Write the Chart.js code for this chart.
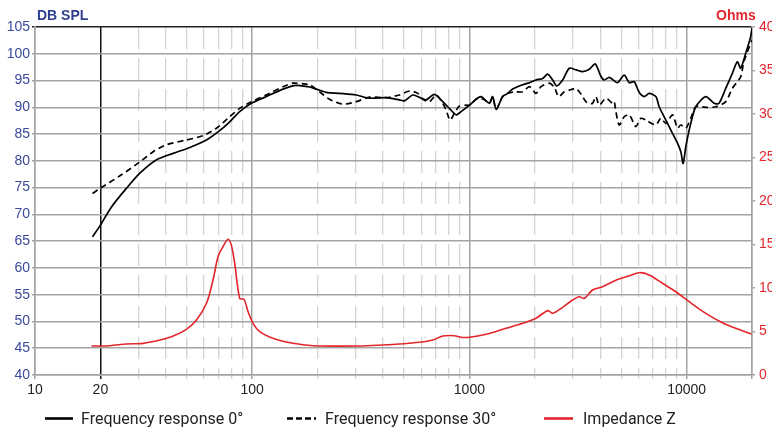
<!DOCTYPE html>
<html>
<head>
<meta charset="utf-8">
<script src="https://cdn.jsdelivr.net/npm/chart.js@4.4.1/dist/chart.umd.min.js"></script>
<style>
  html, body { margin: 0; padding: 0; background: #fff; overflow: hidden; width: 772px; height: 429px; }
  #wrap { position: absolute; left: 0; top: 0; width: 800px; height: 429px; }
  .ttl { position: absolute; top: 7px; font: bold 14px "Liberation Sans", Arial, sans-serif; }
  #dbspl { left: 37px; color: #2f3f8f; }
  #ohms { left: 716px; color: #e3262c; }
  .lg { position: absolute; top: 409px; height: 20px; font: 16px Roboto, sans-serif; color: #222; white-space: nowrap; line-height: 20px; }
  .lg svg { position: absolute; left: 0; top: 0; }
  .lg span { position: absolute; top: 0; }
</style>
</head>
<body>
<div id="wrap"><canvas id="chart" width="800" height="429"></canvas></div>
<div class="ttl" id="dbspl">DB SPL</div>
<div class="ttl" id="ohms">Ohms</div>

<div class="lg" style="left:45px">
  <svg width="30" height="20"><line x1="0" y1="9.5" x2="28" y2="9.5" stroke="#000" stroke-width="2.6"/></svg>
  <span style="left:36px">Frequency response 0°</span>
</div>
<div class="lg" style="left:287px">
  <svg width="30" height="20"><line x1="0" y1="9.5" x2="29" y2="9.5" stroke="#000" stroke-width="2.6" stroke-dasharray="6,3"/></svg>
  <span style="left:38px">Frequency response 30°</span>
</div>
<div class="lg" style="left:544px">
  <svg width="30" height="20"><line x1="0" y1="9.5" x2="29" y2="9.5" stroke="#e3262c" stroke-width="2.6"/></svg>
  <span style="left:39px">Impedance Z</span>
</div>

<script>
// ═══ DATA ═══
const freq0 = [18.4, 20, 22.5, 26.4, 30.4, 36.3, 43.3, 51.6, 61.6, 69.6, 78.8, 87.6, 99.1, 116, 138.6, 159.7, 183.8, 197, 219, 252.6, 301, 347, 414, 476, 502, 549, 600, 632, 690, 754, 809, 869, 916, 1000, 1080, 1132, 1236, 1280, 1327, 1423, 1500, 1582, 1758, 1888, 2026, 2175, 2293, 2417, 2522, 2686, 2884, 3095, 3321, 3562, 3797, 4030, 4176, 4401, 4560, 4810, 5161, 5445, 5737, 6048, 6377, 6723, 7218, 7476, 8024, 8608, 9078, 9404, 9638, 9915, 10450, 11020, 12250, 13380, 14100, 15140, 16240, 17120, 17740, 18710, 19720, 20000];
const spl0 = [65.8, 68.0, 71.4, 74.9, 77.7, 80.2, 81.4, 82.5, 83.9, 85.4, 87.3, 89.2, 90.75, 92.0, 93.4, 94.1, 93.8, 93.4, 92.8, 92.6, 92.3, 91.7, 91.8, 91.4, 91.2, 92.3, 91.7, 91.4, 92.4, 91.05, 89.8, 88.6, 89.2, 90.4, 91.6, 92.0, 90.75, 92.0, 89.6, 92.0, 92.6, 93.4, 94.2, 94.6, 95.1, 95.4, 96.2, 95.1, 94.0, 95.1, 97.3, 97.0, 96.65, 97.1, 98.1, 95.8, 95.1, 95.6, 95.2, 94.6, 96.0, 94.6, 94.8, 92.8, 92.0, 92.6, 92.0, 90.1, 87.6, 85.15, 83.3, 81.7, 79.5, 82.65, 87.0, 90.1, 92.0, 90.75, 90.75, 93.55, 96.35, 98.5, 97.3, 100.1, 103.2, 104.9];

const freq30 = [18.4, 20, 24.6, 30.4, 35.0, 40.3, 49.8, 59.4, 68.4, 78.8, 87.6, 99.1, 116, 138.6, 154, 171, 183.8, 197, 227, 261.6, 301, 347, 414, 476, 530, 579, 611, 655, 703, 754, 781, 815, 853, 900, 966, 1000, 1092, 1172, 1236, 1280, 1327, 1423, 1500, 1610, 1758, 1888, 2026, 2136, 2332, 2460, 2574, 2734, 2884, 2985, 3095, 3204, 3321, 3437, 3562, 3690, 3823, 3960, 4250, 4560, 4642, 4725, 4895, 5161, 5445, 5838, 6158, 6493, 7218, 7603, 8024, 8608, 9078, 9404, 9915, 10450, 11020, 12250, 13620, 15140, 16240, 17740, 18340, 20000];
const spl30 = [73.9, 74.9, 77.2, 79.8, 81.7, 83.0, 83.9, 84.7, 86.1, 88.25, 89.8, 91.05, 92.3, 93.85, 94.5, 94.4, 94.2, 93.4, 91.5, 90.6, 91.05, 91.9, 91.8, 92.3, 93.05, 92.6, 91.5, 91.05, 92.3, 90.75, 89.5, 87.6, 88.9, 90.25, 90.4, 90.4, 91.7, 91.4, 90.75, 92.0, 89.6, 92.0, 92.6, 92.9, 92.9, 93.85, 92.6, 93.85, 94.5, 93.75, 92.0, 92.9, 93.2, 93.4, 93.55, 92.9, 92.0, 91.05, 90.75, 90.75, 92.0, 90.4, 91.7, 90.75, 91.05, 89.2, 86.7, 88.25, 88.6, 86.4, 87.95, 87.6, 86.7, 87.95, 87.0, 88.6, 86.1, 86.7, 86.1, 87.95, 90.1, 90.0, 90.1, 91.05, 93.55, 95.7, 98.5, 102.6];

const freqZ = [18.2, 22.1, 26.4, 31.5, 37.6, 43.3, 49.8, 55.4, 61.6, 66.0, 69.6, 73.4, 77.4, 80.2, 83.1, 87.6, 91.7, 95.7, 100.9, 108.3, 124.6, 154, 190.4, 312, 400, 476, 589, 679, 754, 853, 916, 1000, 1194, 1475, 1758, 2026, 2293, 2417, 2686, 2985, 3204, 3380, 3690, 4103, 4725, 5445, 6048, 6723, 7744, 8920, 10270, 12250, 14610, 16830, 19850];
const impZ = [3.33, 3.37, 3.56, 3.64, 4.02, 4.48, 5.25, 6.32, 8.24, 10.9, 13.6, 14.75, 15.6, 14.9, 12.8, 8.8, 8.7, 7.28, 5.94, 4.98, 4.22, 3.64, 3.37, 3.33, 3.45, 3.56, 3.76, 4.02, 4.48, 4.52, 4.33, 4.33, 4.68, 5.37, 5.94, 6.52, 7.4, 7.09, 7.78, 8.62, 9.0, 8.8, 9.77, 10.15, 10.9, 11.4, 11.76, 11.5, 10.54, 9.57, 8.43, 7.09, 6.01, 5.37, 4.71];

const xTicks = [10, 20, 30, 40, 50, 60, 70, 80, 90, 100, 200, 300, 400, 500, 600, 700, 800, 900,
  1000, 2000, 3000, 4000, 5000, 6000, 7000, 8000, 9000, 10000, 20000];
const xLabels = [10, 20, 100, 1000, 10000];
const majorX = [10, 100, 1000, 10000, 20000];

const pts = (xs, ys) => xs.map((x, i) => ({ x: x, y: ys[i] }));
const RED = '#e3262c';
const GRID = '#a3a3a3';
const MINOR = '#d4d4d4';

// ═══ CHART ═══
new Chart(document.getElementById('chart'), {
  type: 'line',
  data: {
    datasets: [
      { label: 'Frequency response 0°', data: pts(freq0, spl0), borderColor: '#000', borderWidth: 1.7, pointRadius: 0, tension: 0.25, yAxisID: 'y' },
      { label: 'Frequency response 30°', data: pts(freq30, spl30), borderColor: '#000', borderWidth: 1.7, borderDash: [6, 4], pointRadius: 0, tension: 0.25, yAxisID: 'y' },
      { label: 'Impedance Z', data: pts(freqZ, impZ), borderColor: RED, borderWidth: 1.6, pointRadius: 0, tension: 0.3, yAxisID: 'y2' }
    ]
  },
  options: {
    responsive: false,
    animation: false,
    devicePixelRatio: 1,
    layout: { padding: { top: 27, left: 0, right: 0, bottom: 0 } },
    plugins: { legend: { display: false }, tooltip: { enabled: false } },
    scales: {
      x: {
        type: 'logarithmic',
        min: 10, max: 20000,
        afterBuildTicks: s => { s.ticks = xTicks.map(v => ({ value: v })); },
        afterFit: s => { s.height = 54; },
        ticks: {
          autoSkip: false, maxRotation: 0, padding: 3,
          color: '#222', font: { family: 'Liberation Sans', size: 14 },
          callback: v => xLabels.includes(v) ? String(v) : ''
        },
        grid: {
          tickLength: 4,
          lineWidth: c => (c.tick && !majorX.includes(c.tick.value) && c.tick.value !== 20) ? 1.3 : 1.5,
          color: c => {
            const v = c.tick && c.tick.value;
            if (v === 20) return '#111';
            if (majorX.includes(v)) return GRID;
            return MINOR;
          }
        },
        border: {
          color: GRID, width: 1.5,
          dash: c => {
            const v = c.tick && c.tick.value;
            return (v && v !== 20 && !majorX.includes(v)) ? [22, 9] : [];
          }
        }
      },
      y: {
        position: 'left',
        min: 40, max: 105,
        afterFit: s => { s.width = 35; },
        ticks: { stepSize: 5, padding: 2, color: '#3a4a9c', font: { family: 'Liberation Sans', size: 14 } },
        grid: {
          tickLength: 3, lineWidth: 1.5,
          color: c => (c.tick && c.tick.value === 105) ? '#222' : GRID
        },
        border: { color: GRID, width: 1.5 }
      },
      y2: {
        position: 'right',
        min: 0, max: 40,
        afterFit: s => { s.width = 48; },
        ticks: { stepSize: 5, padding: 4, color: RED, font: { family: 'Liberation Sans', size: 14 } },
        grid: { drawOnChartArea: false, tickLength: 3, color: GRID, lineWidth: 1.5 },
        border: { color: GRID, width: 1.5 }
      }
    }
  }
});
</script>
</body>
</html>
